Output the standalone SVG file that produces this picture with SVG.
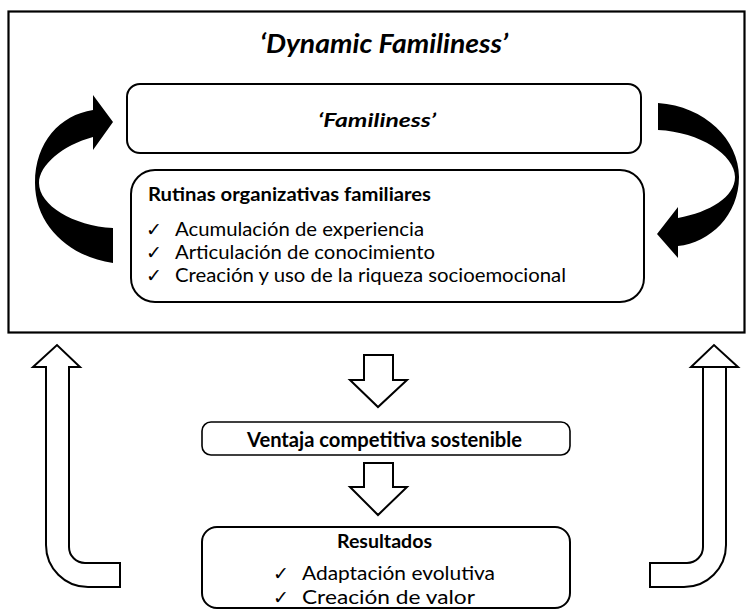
<svg xmlns="http://www.w3.org/2000/svg" width="747" height="610" viewBox="0 0 747 610">
  <style>
    .txt { font-family: Lato, "Open Sans", "Liberation Sans", sans-serif; fill: #000; }
    .b { font-weight: bold; }
    .chk { font-family: "DejaVu Sans", sans-serif; font-size: 19px; fill: #000; }
    .box { fill: #fff; stroke: #000; stroke-width: 2; }
    .thin { fill: #fff; stroke: #000; stroke-width: 1.6; }
    .solid { fill: #000; stroke: none; }
    .hollow { fill: #fff; stroke: #000; stroke-width: 2; stroke-linejoin: miter; }
  </style>
  <rect width="747" height="610" fill="#fff"/>

  <!-- outer frame -->
  <g id="dynamic-familiness">
    <rect x="8.5" y="11.5" width="736" height="321" fill="none" stroke="#000" stroke-width="2.2"/>
    <text class="txt b" x="384" y="53" font-size="26" font-style="italic" text-anchor="middle" textLength="248" lengthAdjust="spacingAndGlyphs">‘Dynamic Familiness’</text>
  </g>

  <g id="familiness">
    <rect class="box" x="127" y="84" width="514" height="69" rx="13"/>
    <text class="txt b" x="377" y="127" font-size="19" font-style="italic" text-anchor="middle" textLength="118" lengthAdjust="spacingAndGlyphs">‘Familiness’</text>
  </g>

  <g id="rutinas">
    <rect class="box" x="131" y="170" width="513" height="132" rx="24"/>
    <text class="txt b" x="148" y="201" font-size="19" textLength="283" lengthAdjust="spacingAndGlyphs">Rutinas organizativas familiares</text>
    <text class="chk" x="146" y="236">✓</text>
    <text class="txt" x="175" y="236" font-size="19.5" textLength="249" lengthAdjust="spacingAndGlyphs">Acumulación de experiencia</text>
    <text class="chk" x="146" y="259">✓</text>
    <text class="txt" x="175" y="259" font-size="19.5" textLength="260" lengthAdjust="spacingAndGlyphs">Articulación de conocimiento</text>
    <text class="chk" x="146" y="282">✓</text>
    <text class="txt" x="175" y="282" font-size="19.5" textLength="391" lengthAdjust="spacingAndGlyphs">Creación y uso de la riqueza socioemocional</text>
  </g>

  <g id="ventaja">
    <rect class="thin" x="202" y="422" width="368" height="33" rx="9"/>
    <text class="txt b" x="384.5" y="447" font-size="20" text-anchor="middle" textLength="275" lengthAdjust="spacingAndGlyphs">Ventaja competitiva sostenible</text>
  </g>

  <g id="resultados">
    <rect class="box" x="202" y="527" width="368" height="81" rx="15"/>
    <text class="txt b" x="384.5" y="548" font-size="18" text-anchor="middle" textLength="95" lengthAdjust="spacingAndGlyphs">Resultados</text>
    <text class="chk" x="273" y="580">✓</text>
    <text class="txt" x="302" y="580" font-size="18.5" textLength="193" lengthAdjust="spacingAndGlyphs">Adaptación  evolutiva</text>
    <text class="chk" x="273" y="604">✓</text>
    <text class="txt" x="302" y="604" font-size="18.5" textLength="173" lengthAdjust="spacingAndGlyphs">Creación de valor</text>
  </g>

  <g id="connectors">
    <!-- curved loop arrows -->
    <path class="solid" d="M113,263 C70,257 35,226 35,183 C35,142 60,115 93,110 L93,95 L113,122 L93,150 L93,137 C63,145 39,165 39,183 C39,205 73,226 113,228 Z"/>
    <path class="solid" d="M658,103 C705,106 739,140 739,177 C739,215 710,243 678,246 L678,258 L657,234 L678,207 L678,218 C710,212 735,197 735,177 C735,155 700,132 658,130 Z"/>
    <!-- feedback block arrows -->
    <path class="hollow" d="M46,367 L46,545 A42,42 0 0 0 88,587 L120,587 L120,563 L85,563 A16,16 0 0 1 69,547 L69,367 L80,367 L57,345 L33,367 Z"/>
    <path class="hollow" d="M726,367 L726,545 A42,42 0 0 1 684,587 L650,587 L650,563 L687,563 A16,16 0 0 0 703,547 L703,367 L738,367 L714,345 L691,367 Z"/>
    <!-- downward block arrows -->
    <path class="hollow" d="M364,355 L393,355 L393,380 L407,380 L378,407 L350,380 L364,380 Z"/>
    <path class="hollow" d="M364,463 L393,463 L393,487 L407,487 L378,515 L350,487 L364,487 Z"/>
  </g>
</svg>
